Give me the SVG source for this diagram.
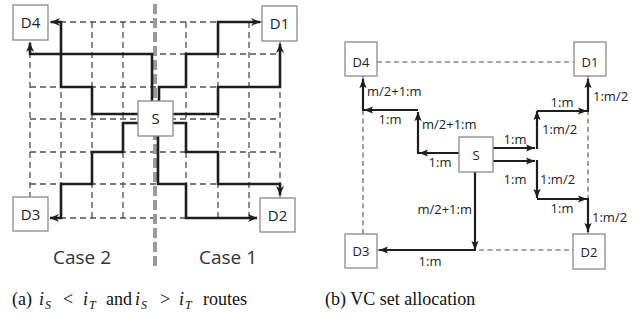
<svg xmlns="http://www.w3.org/2000/svg" width="644" height="321" viewBox="0 0 644 321">
<style>
.bg{fill:#fff}
.grid{stroke:#505050;stroke-width:1.3;stroke-dasharray:6 4;fill:none}
.grid2{stroke:#505050;stroke-width:1.1;stroke-dasharray:5 3.5;fill:none}
.center{stroke:#9a9a9a;stroke-width:4;stroke-dasharray:10 4;fill:none}
.route{stroke:#1e1e1e;stroke-width:2.6;fill:none;stroke-linejoin:miter;marker-end:url(#ahL)}
.arr{stroke:#1e1e1e;stroke-width:2.2;fill:none;marker-end:url(#ahR)}
.box{fill:#fff;stroke:#8a8a8a;stroke-width:1.3}
.nl{font-family:"Open Sans","Liberation Sans",sans-serif;font-size:15px;fill:#222;text-anchor:middle}
.nr{font-family:"Open Sans","Liberation Sans",sans-serif;font-size:13px;fill:#222;text-anchor:middle}
.lbl{font-family:"Open Sans","Liberation Sans",sans-serif;font-size:13px;fill:#222}
.case{font-family:"Open Sans","Liberation Sans",sans-serif;font-size:19px;fill:#333;text-anchor:middle}
.cap{font-family:"Liberation Serif","Times New Roman",serif;font-size:18px;fill:#111}
.mi{font-style:italic}
.sub{font-style:italic;font-size:12px}
</style>
<defs>
<marker id="ahL" viewBox="0 0 10 10" refX="10" refY="5" markerWidth="9" markerHeight="9" markerUnits="userSpaceOnUse" orient="auto">
<path d="M0,0.5 L10,5 L0,9.5 L3,5 z" fill="#1e1e1e"/>
</marker>
<marker id="ahR" viewBox="0 0 10 10" refX="10" refY="5" markerWidth="9" markerHeight="9" markerUnits="userSpaceOnUse" orient="auto">
<path d="M0,1 L10,5 L0,9 L2,5 z" fill="#1e1e1e"/>
</marker>
</defs>
<rect class="bg" x="0" y="0" width="644" height="321"/>

<!-- Left figure grid -->
<g id="left-grid">
<path class="grid" d="M30,22V218 M61,22V218 M92,22V218 M123,22V218 M186,22V218 M218,22V218 M249,22V218 M280,22V218"/>
<path class="grid" d="M30,22H280 M30,54H280 M30,87H280 M30,119H280 M30,152H280 M30,184H280 M30,218H280"/>
<path class="center" d="M155,4V270"/>
</g>

<g id="left-connectors">
<path class="route" d="M152,101V54H30V43"/>
<path class="route" d="M138,114H92V87H61V22H51"/>
<path class="route" d="M138,123H123V152H92V184H61V218H50"/>
<path class="route" d="M159,101V87H186V54H218V22H260"/>
<path class="route" d="M173,114H218V87H280V44"/>
<path class="route" d="M173,123H186V152H218V184H280V195"/>
<path class="route" d="M158,136V184H186V218H257"/>
</g>

<g id="left-D4"><rect class="box" x="13" y="5" width="35" height="35"/><text class="nl" x="30.5" y="28">D4</text></g>
<g id="left-D1"><rect class="box" x="262" y="6" width="35" height="35"/><text class="nl" x="279.5" y="29">D1</text></g>
<g id="left-D3"><rect class="box" x="13" y="197" width="35" height="34"/><text class="nl" x="30.5" y="219.5">D3</text></g>
<g id="left-D2"><rect class="box" x="260" y="198" width="35" height="34"/><text class="nl" x="277.5" y="220.5">D2</text></g>
<g id="left-S"><rect class="box" x="138" y="101" width="35" height="35"/><text class="nl" x="155.5" y="124">S</text></g>

<text class="case" x="82" y="264">Case 2</text>
<text class="case" x="228" y="264">Case 1</text>

<!-- Right figure -->
<g id="right-grid">
<path class="grid2" d="M377,62H574 M363,76V234 M588,76V234 M377,250H573"/>
</g>

<g id="right-connectors">
<line class="arr" x1="459" y1="153" x2="419" y2="153"/>
<line class="arr" x1="418" y1="154" x2="418" y2="112"/>
<line class="arr" x1="418" y1="110" x2="364" y2="110"/>
<line class="arr" x1="363" y1="111" x2="363" y2="79"/>
<line class="arr" x1="493" y1="148" x2="535" y2="148"/>
<line class="arr" x1="537" y1="149" x2="537" y2="111"/>
<line class="arr" x1="537" y1="111" x2="587" y2="111"/>
<line class="arr" x1="588" y1="112" x2="588" y2="79"/>
<line class="arr" x1="493" y1="161" x2="535" y2="161"/>
<line class="arr" x1="537" y1="160" x2="537" y2="198"/>
<line class="arr" x1="537" y1="199" x2="587" y2="199"/>
<line class="arr" x1="588" y1="198" x2="588" y2="232"/>
<line class="arr" x1="475" y1="172" x2="475" y2="250"/>
<line class="arr" x1="476" y1="250" x2="379" y2="250"/>
</g>

<g id="right-labels">
<text class="lbl" x="367" y="96">m/2+1:m</text>
<text class="lbl" x="390" y="124" text-anchor="middle">1:m</text>
<text class="lbl" x="422" y="129">m/2+1:m</text>
<text class="lbl" x="440" y="167" text-anchor="middle">1:m</text>
<text class="lbl" x="515" y="144" text-anchor="middle">1:m</text>
<text class="lbl" x="515" y="184" text-anchor="middle">1:m</text>
<text class="lbl" x="542" y="134">1:m/2</text>
<text class="lbl" x="562" y="107" text-anchor="middle">1:m</text>
<text class="lbl" x="593" y="101">1:m/2</text>
<text class="lbl" x="540" y="184">1:m/2</text>
<text class="lbl" x="562" y="213" text-anchor="middle">1:m</text>
<text class="lbl" x="592" y="222">1:m/2</text>
<text class="lbl" x="472" y="214" text-anchor="end">m/2+1:m</text>
<text class="lbl" x="430" y="266" text-anchor="middle">1:m</text>
</g>

<g id="right-D4"><rect class="box" x="345" y="42" width="32" height="34"/><text class="nr" x="361" y="67">D4</text></g>
<g id="right-D1"><rect class="box" x="574" y="42" width="32" height="34"/><text class="nr" x="590" y="67">D1</text></g>
<g id="right-D3"><rect class="box" x="345" y="234" width="32" height="34"/><text class="nr" x="361" y="256">D3</text></g>
<g id="right-D2"><rect class="box" x="573" y="234" width="32" height="35"/><text class="nr" x="589" y="257">D2</text></g>
<g id="right-S"><rect class="box" x="459" y="137" width="34" height="35"/><text class="nr" x="476" y="160">S</text></g>

<text class="cap" y="305"><tspan x="12">(a)</tspan><tspan class="mi" x="39">i</tspan><tspan class="sub" x="45" dy="4">S</tspan><tspan x="63" dy="-4">&lt;</tspan><tspan class="mi" x="83">i</tspan><tspan class="sub" x="89" dy="4">T</tspan><tspan x="106" dy="-4">and</tspan><tspan class="mi" x="135">i</tspan><tspan class="sub" x="141" dy="4">S</tspan><tspan x="160" dy="-4">&gt;</tspan><tspan class="mi" x="179">i</tspan><tspan class="sub" x="185" dy="4">T</tspan><tspan x="203" dy="-4">routes</tspan></text>
<text class="cap" x="325" y="305">(b) VC set allocation</text>
</svg>
